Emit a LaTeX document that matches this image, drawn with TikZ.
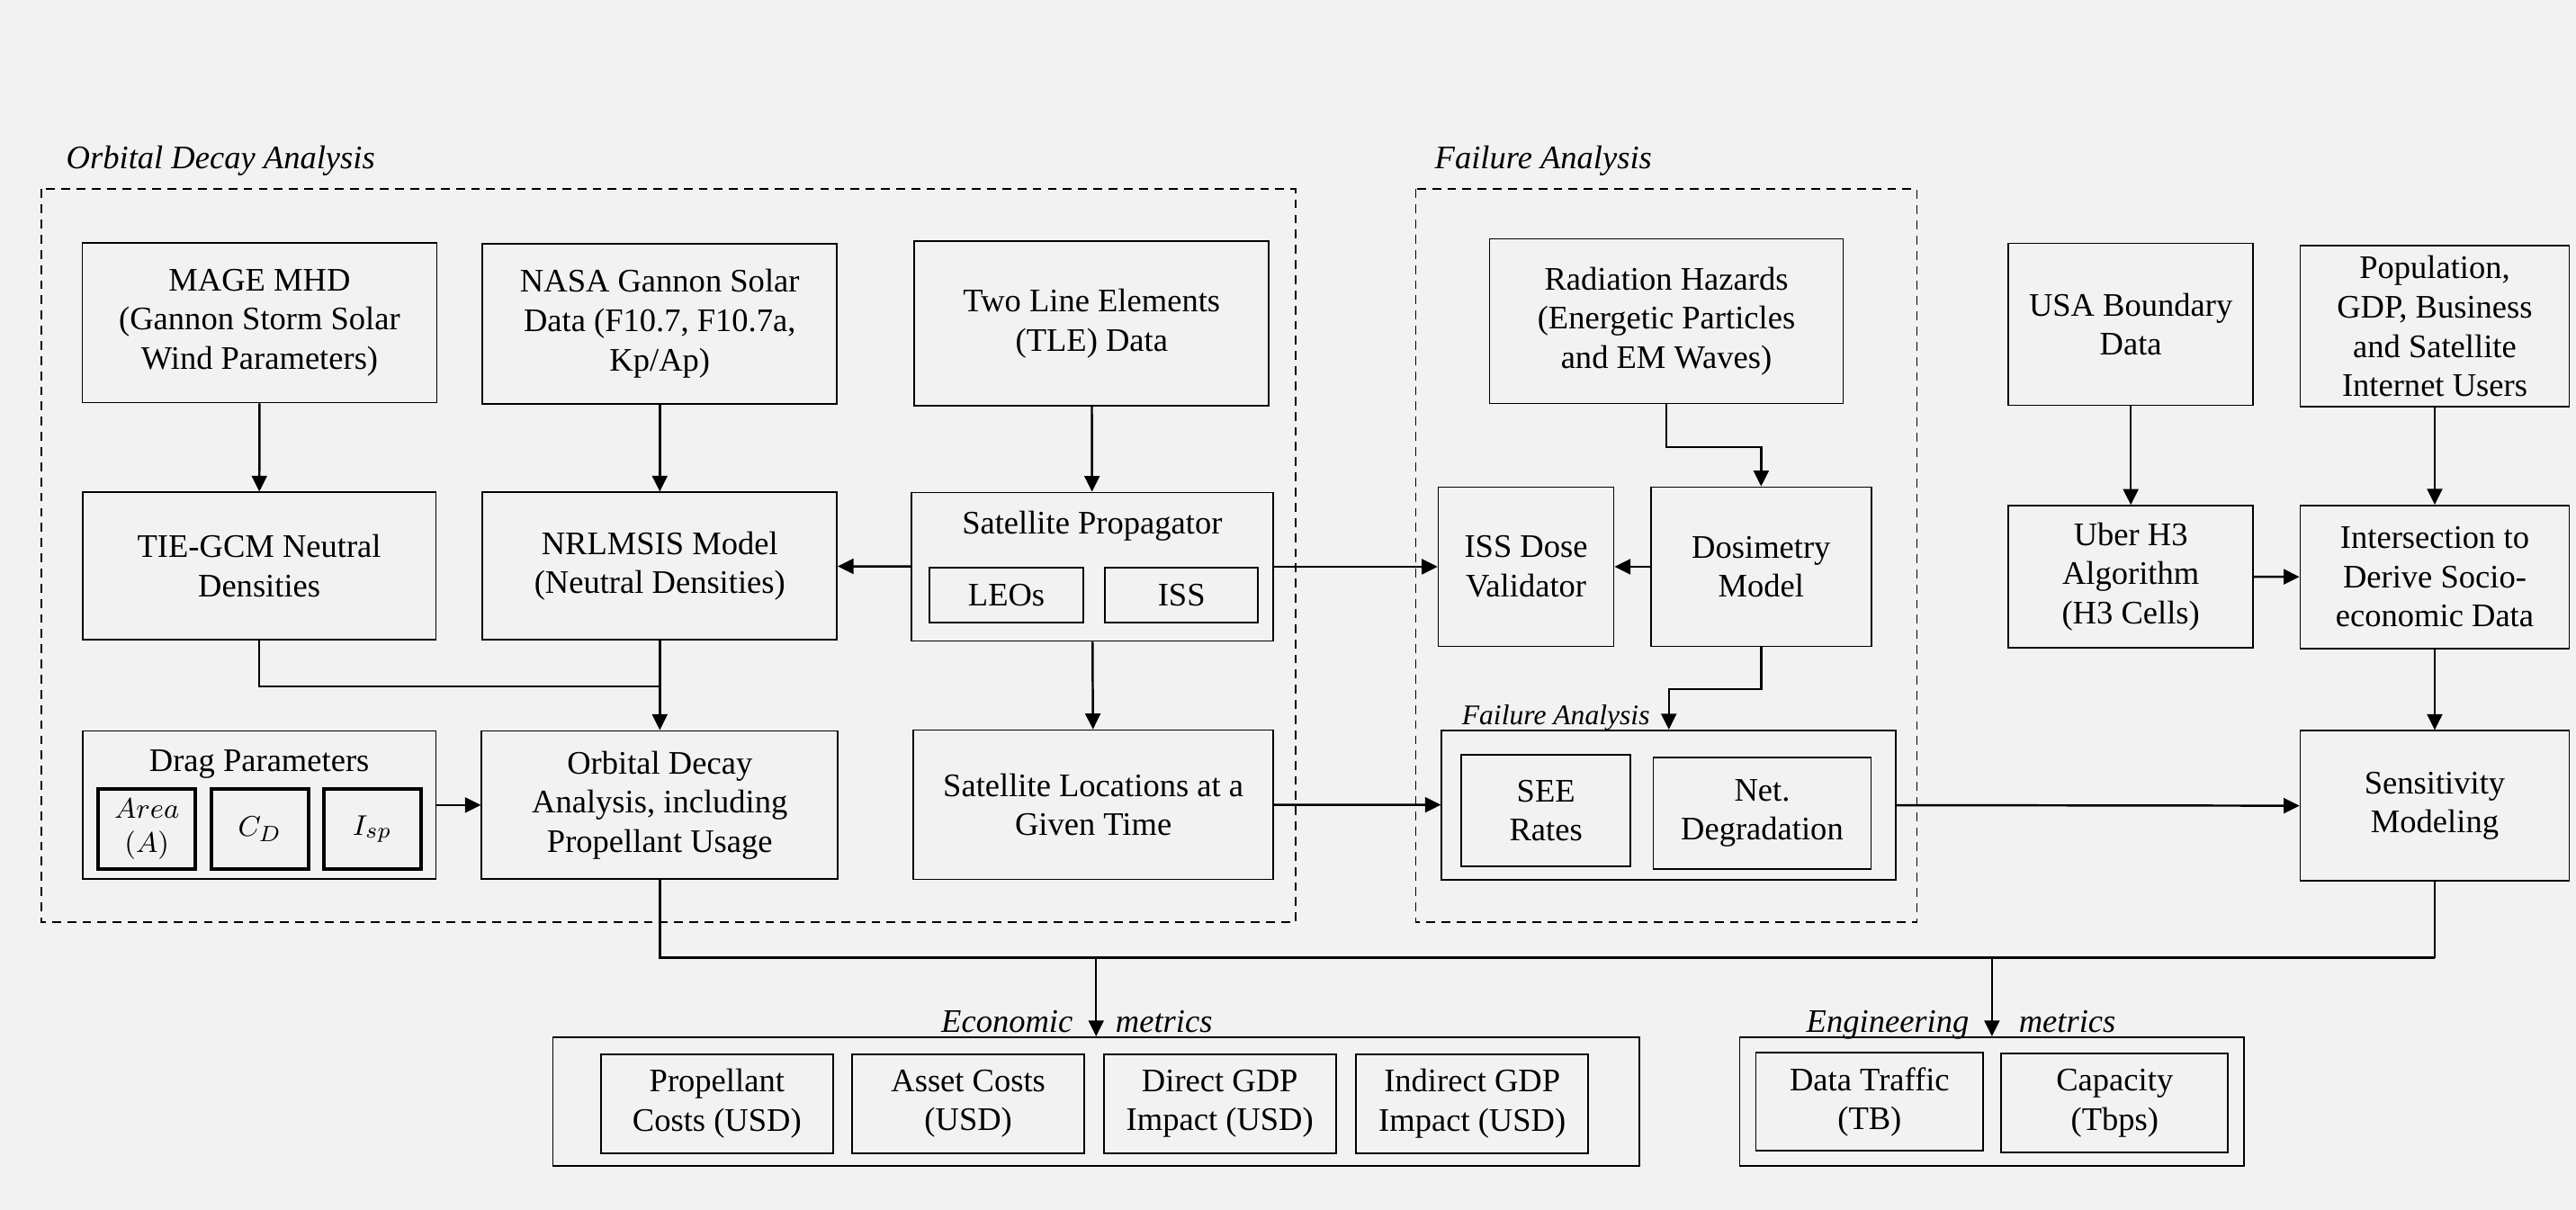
\documentclass[tikz,border=0pt]{standalone}
\usepackage{fontspec}
\setmainfont{Liberation Serif}
\usepackage{xcolor}
\usepackage{tikz}
\usetikzlibrary{arrows.meta,positioning,calc}
\definecolor{paper}{HTML}{F2F2F2}

\begin{document}
\begin{tikzpicture}[x=0.01826cm, y=-0.01826cm, >={Triangle[length=5pt,width=4.8pt]},
    box/.style={rectangle, draw, line width=0.5pt, align=center, inner sep=0pt, font=\fontsize{10.4}{12.4}\selectfont},
    param/.style={rectangle, draw, line width=1.2pt, align=center, inner sep=0pt, font=\fontsize{9.5}{11}\selectfont},
    heading/.style={inner sep=0pt, align=center, font=\fontsize{10.4}{12.4}\selectfont},
    tag/.style={inner sep=0pt, font=\fontsize{10.4}{12.4}\selectfont\itshape},
    group/.style={draw, dash pattern=on 2.8pt off 2pt, line width=0.5pt},
    link/.style={->, line width=0.7pt},
    wire/.style={line width=0.7pt}]
    \fill[paper] (0,0) rectangle (1568,736.6);

    % group frames
    \node (tOrbit) [tag, anchor=base west] at (40,102.5) {Orbital Decay Analysis};
    \node (tFail) [tag, anchor=base west] at (873,102.5) {Failure Analysis};
    \draw[group] (25.3,115.2) rectangle (788.6,561.4);
    \draw[group] (861.8,115.2) rectangle (1166.8,561.4);

    % row 1
    \node (mage) [box, minimum width=3.94cm, minimum height=1.78cm] at (158,196.4) {MAGE MHD\\(Gannon Storm Solar\\Wind Parameters)};
    \node (nasa) [box, minimum width=3.94cm, minimum height=1.78cm] at (401.6,197) {NASA Gannon Solar\\Data (F10.7, F10.7a,\\Kp/Ap)};
    \node (tle) [box, minimum width=3.94cm, minimum height=1.83cm] at (664.5,197) {Two Line Elements\\(TLE) Data};
    \node (rad) [box, minimum width=3.93cm, minimum height=1.83cm] at (1014.3,195.5) {Radiation Hazards\\(Energetic Particles\\and EM Waves)};
    \node (usa) [box, minimum width=2.72cm, minimum height=1.80cm] at (1297,197.4) {USA Boundary\\Data};
    \node (pop) [box, minimum width=2.99cm, minimum height=1.79cm] at (1482,198.7) {Population,\\GDP, Business\\and Satellite\\Internet Users};

    % row 2
    \node (tie) [box, minimum width=3.93cm, minimum height=1.64cm] at (157.8,344.6) {TIE-GCM Neutral\\Densities};
    \node (nrl) [box, minimum width=3.94cm, minimum height=1.64cm] at (401.6,344.6) {NRLMSIS Model\\(Neutral Densities)};
    \node (prop) [box, minimum width=4.02cm, minimum height=1.65cm] at (664.8,345) {};
    \node (propTitle) [heading] at (664.8,320.3) {Satellite Propagator};
    \node (leo) [box, minimum width=1.71cm, minimum height=0.61cm] at (612.6,362.3) {LEOs};
    \node (iss) [box, minimum width=1.70cm, minimum height=0.61cm] at (719.2,362.3) {ISS};
    \node (dose) [box, minimum width=1.95cm, minimum height=1.77cm] at (928.9,345) {ISS Dose\\Validator};
    \node (dos) [box, minimum width=2.45cm, minimum height=1.77cm] at (1072,345) {Dosimetry\\Model};
    \node (uber) [box, minimum width=2.72cm, minimum height=1.58cm] at (1297,351.1) {Uber H3\\Algorithm\\(H3 Cells)};
    \node (inter) [box, minimum width=2.99cm, minimum height=1.59cm] at (1482,351.2) {Intersection to\\Derive Socio-\\economic Data};

    % row 3
    \node (drag) [box, minimum width=3.93cm, minimum height=1.65cm] at (157.8,490.1) {};
    \node (dragTitle) [heading] at (157.8,465) {Drag Parameters};
    \node (area) [param, minimum width=1.08cm, minimum height=0.89cm] at (89.4,504.7) {$Area$\\$(A)$};
    \node (cd) [param, minimum width=1.08cm, minimum height=0.89cm] at (158.2,504.7) {$C_D$};
    \node (isp) [param, minimum width=1.08cm, minimum height=0.89cm] at (226.6,504.7) {$I_{sp}$};
    \node (od) [box, minimum width=3.96cm, minimum height=1.65cm] at (401.6,490.1) {Orbital Decay\\Analysis, including\\Propellant Usage};
    \node (loc) [box, minimum width=4.00cm, minimum height=1.66cm] at (665.5,489.9) {Satellite Locations at a\\Given Time};
    \node (fail) [box, minimum width=5.05cm, minimum height=1.66cm] at (1015.8,490) {};
    \node (failTag) [tag, anchor=base west, font=\fontsize{9}{11}\selectfont\itshape] at (889.5,441) {Failure Analysis};
    \node (see) [box, minimum width=1.88cm, minimum height=1.24cm] at (941,493.4) {SEE\\Rates};
    \node (net) [box, minimum width=2.42cm, minimum height=1.24cm] at (1072.6,495) {Net.\\Degradation};
    \node (sens) [box, minimum width=2.99cm, minimum height=1.67cm] at (1482,490.6) {Sensitivity\\Modeling};

    % row 4
    \node (econ) [box, minimum width=12.08cm, minimum height=1.43cm] at (667.2,670.5) {};
    \node (econTagA) [tag, anchor=base east] at (653.4,628.5) {Economic};
    \node (econTagB) [tag, anchor=base west] at (678.7,628.5) {metrics};
    \node (propCost) [box, minimum width=2.58cm, minimum height=1.10cm] at (436.4,671.8) {Propellant\\Costs (USD)};
    \node (asset) [box, minimum width=2.58cm, minimum height=1.10cm] at (589.4,671.8) {Asset Costs\\(USD)};
    \node (direct) [box, minimum width=2.58cm, minimum height=1.10cm] at (742.5,671.8) {Direct GDP\\Impact (USD)};
    \node (indirect) [box, minimum width=2.58cm, minimum height=1.10cm] at (896.1,671.8) {Indirect GDP\\Impact (USD)};
    \node (eng) [box, minimum width=5.61cm, minimum height=1.43cm] at (1212.5,670.5) {};
    \node (engTagA) [tag, anchor=base east] at (1198.9,628.5) {Engineering};
    \node (engTagB) [tag, anchor=base west] at (1228.5,628.5) {metrics};
    \node (traffic) [box, minimum width=2.53cm, minimum height=1.09cm] at (1138,670.8) {Data Traffic\\(TB)};
    \node (cap) [box, minimum width=2.52cm, minimum height=1.10cm] at (1287.2,671.5) {Capacity\\(Tbps)};

    % connectors
    \coordinate (join) at (401.6,418);
    \coordinate (bus) at (1482,583);
    \draw[link] (mage) -- (tie);
    \draw[link] (nasa) -- (nrl);
    \draw[link] (tle) -- (prop);
    \draw[link] (prop) -- (nrl);
    \draw[link] (prop) -- (dose);
    \draw[link] (prop) -- (loc);
    \draw[wire] (tie.south) |- (join);
    \draw[link] (nrl) -- (od);
    \draw[link] (drag) -- (od);
    \draw[link] (loc) -- (fail);
    \draw[link] (fail) -- (sens);
    \draw[link] (rad.south) -- ++(0,26) -| (dos.north);
    \draw[link] (dos) -- (dose);
    \draw[link] (dos.south) -- ++(0,25.5) -| (fail.north);
    \draw[link] (usa) -- (uber);
    \draw[link] (pop) -- (inter);
    \draw[link] (uber) -- (inter);
    \draw[link] (inter) -- (sens);
    \draw[wire] (od.south) |- (bus);
    \draw[wire] (sens.south) -- (bus);
    \draw[link] (econ.north |- bus) -- (econ.north);
    \draw[link] (eng.north |- bus) -- (eng.north);
\end{tikzpicture}
\end{document}
